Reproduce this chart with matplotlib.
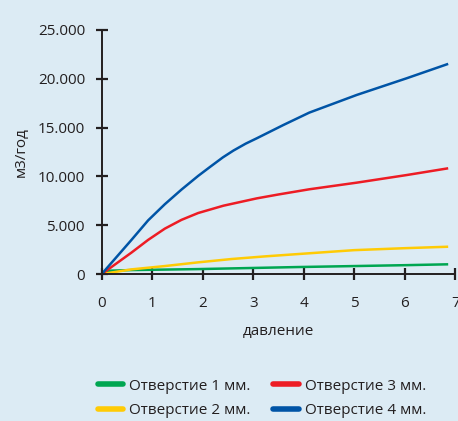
import matplotlib
matplotlib.use('Agg')
from matplotlib import pyplot as plt
from matplotlib.ticker import FuncFormatter

# значения
x_1mm = [0, 0.12, 0.59, 1.91, 3.89, 5, 6, 6.86]
y_1mm = [0, 340, 410, 510, 720, 820, 910, 1000]

x_2mm = [0, 0.59, 1.25, 1.91, 2.57, 3.23, 3.89, 5, 6, 6.86]
y_2mm = [0, 480, 820, 1200, 1540, 1810, 2050, 2450, 2650, 2800]

x_3mm = [0, 0.59, 0.92, 1.25, 1.58, 1.91, 2.41, 3.07, 3.5, 4.11, 5.05, 6.04, 6.86]
y_3mm = [0, 2200, 3500, 4650, 5550, 6250, 7000, 7750, 8150, 8680, 9360, 10140, 10830]

x_4mm = [0, 0.59, 0.92, 1.25, 1.58, 1.91, 2.14, 2.4, 2.61, 2.85, 3.07, 3.6, 4.11, 5.05, 6.04, 6.86]
y_4mm = [0, 3500, 5500, 7150, 8650, 10050, 10950, 11950, 12650, 13350, 13900, 15270, 16530, 18340, 20050, 21520]

labels = ['Отверстие 1 мм.', 'Отверстие 2 мм.', 'Отверстие 3 мм.', 'Отверстие 4 мм.']
colors = ['#00a651', '#ffcb05', '#ed1c24', '#0054a6']

x_ticks = [0, 1, 2, 3, 4, 5, 6, 7]
y_ticks = [0, 5000, 10000, 15000, 20000, 25000]

plt.rcParams['font.family'] = ['Open Sans', 'DejaVu Sans']
bg = '#dcebf4'
ink = '#231f20'

fig = plt.figure(figsize=(4.58, 4.21), dpi=100, facecolor=bg)
ax = fig.add_axes([0.222, 0.349, 0.772, 0.580])
ax.set_facecolor(bg)

series = [(x_1mm, y_1mm), (x_2mm, y_2mm), (x_3mm, y_3mm), (x_4mm, y_4mm)]
handles = []
for (xs, ys), lab, c in zip(series, labels, colors):
    h, = ax.plot(xs, ys, color=c, lw=1.8, label=lab,
                 solid_capstyle='butt', solid_joinstyle='round')
    handles.append(h)

ax.set_xlim(0, 7)
ax.set_ylim(0, 25000)
ax.set_xticks(x_ticks)
ax.set_yticks(y_ticks)
ax.yaxis.set_major_formatter(FuncFormatter(lambda v, p: f'{int(v):,}'.replace(',', '.')))

for side in ['top', 'right']:
    ax.spines[side].set_visible(False)
for side in ['left', 'bottom']:
    ax.spines[side].set_color(ink)
    ax.spines[side].set_linewidth(1.4)

ax.tick_params(direction='inout', length=9, width=1.6, color=ink,
               labelcolor=ink, labelsize=11)
ax.tick_params(axis='x', pad=11.5)
ax.tick_params(axis='y', pad=7.5)

ax.set_xlabel('давление', fontsize=11, color=ink, labelpad=9)
ax.set_ylabel('м3/год', fontsize=11, color=ink, labelpad=6.5)

leg = fig.legend(handles=handles, ncol=2, loc='center', bbox_to_anchor=(0.572, 0.054),
                 frameon=False, fontsize=11, handlelength=1.65, handletextpad=0.4,
                 columnspacing=1.5, labelspacing=0.62, labelcolor=ink)
for line in leg.get_lines():
    line.set_linewidth(4)
    line.set_solid_capstyle('round')

fig.savefig('out.png', dpi=100, facecolor=bg)
